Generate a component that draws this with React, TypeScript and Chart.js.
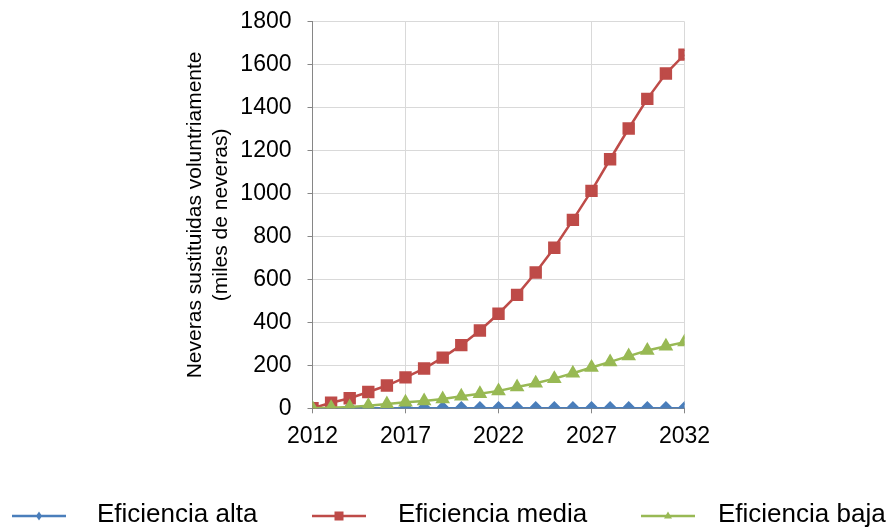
import React, { useEffect, useRef } from "react";
import { Chart, registerables } from "chart.js";

Chart.register(...registerables);

const years = [2012, 2013, 2014, 2015, 2016, 2017, 2018, 2019, 2020, 2021, 2022, 2023, 2024, 2025, 2026, 2027, 2028, 2029, 2030, 2031, 2032];
const eficienciaAlta = [0, 0, 0, 0, 0, 0, 0, 0, 0, 0, 0, 0, 0, 0, 0, 0, 0, 0, 0, 0, 0];
const eficienciaMedia = [0, 26, 47, 76, 106, 144, 185, 236, 294, 362, 440, 528, 632, 747, 877, 1012, 1159, 1302, 1440, 1558, 1646];
const eficienciaBaja = [0, 3, 6, 12, 20, 28, 34, 43, 56, 68, 81, 99, 117, 138, 163, 190, 216, 243, 269, 289, 308];
const seriesNames = ["Eficiencia alta", "Eficiencia media", "Eficiencia baja"];
const yTitle = ["Neveras sustituidas voluntriamente", "(miles de neveras)"];

const FONT = "'Liberation Sans', Arial, sans-serif";

const legendPlugin = {
  id: "customLegend",
  afterDraw(chart: any) {
    const ctx = chart.ctx;
    const items = [
      { ds: 0, lineX: 39, textX: 97 },
      { ds: 1, lineX: 339, textX: 398 },
      { ds: 2, lineX: 668, textX: 718 },
    ];
    ctx.save();
    items.forEach((it) => {
      const ds = chart.data.datasets[it.ds];
      const y = 516;
      ctx.strokeStyle = ds.borderColor;
      ctx.lineWidth = 2.5;
      ctx.beginPath();
      ctx.moveTo(it.lineX - 27, y);
      ctx.lineTo(it.lineX + 27, y);
      ctx.stroke();
      ctx.fillStyle = ds.pointBackgroundColor;
      if (ds.pointStyle === "rect") {
        ctx.fillRect(it.lineX - 4.5, y - 4.5, 9, 9);
      } else if (ds.pointStyle === "rectRot") {
        ctx.beginPath();
        ctx.moveTo(it.lineX, y - 4.5);
        ctx.lineTo(it.lineX + 3, y);
        ctx.lineTo(it.lineX, y + 4.5);
        ctx.lineTo(it.lineX - 3, y);
        ctx.closePath();
        ctx.fill();
      } else {
        ctx.beginPath();
        ctx.moveTo(it.lineX, y - 4.5);
        ctx.lineTo(it.lineX + 4, y + 2.5);
        ctx.lineTo(it.lineX - 4, y + 2.5);
        ctx.closePath();
        ctx.fill();
      }
      ctx.fillStyle = "#000000";
      ctx.font = `26px ${FONT}`;
      ctx.textBaseline = "middle";
      ctx.textAlign = "left";
      ctx.fillText(seriesNames[it.ds], it.textX, 515);
    });
    ctx.restore();
  },
};

export default function App() {
  const ref = useRef<HTMLCanvasElement | null>(null);

  useEffect(() => {
    if (!ref.current) return;
    const mk = (vals: number[]) => years.map((x, i) => ({ x, y: vals[i] }));
    const chart = new Chart(ref.current, {
      type: "line",
      data: {
        datasets: [
          {
            label: seriesNames[0],
            data: mk(eficienciaAlta),
            order: 2,
            borderColor: "#4A7EBB",
            backgroundColor: "#4A7EBB",
            pointBackgroundColor: "#4A7EBB",
            pointBorderColor: "#4A7EBB",
            pointStyle: "rectRot",
            pointRadius: 5.5,
            borderWidth: 2.5,
          },
          {
            label: seriesNames[1],
            data: mk(eficienciaMedia),
            order: 1,
            borderColor: "#BE4B48",
            backgroundColor: "#BE4B48",
            pointBackgroundColor: "#BE4B48",
            pointBorderColor: "#BE4B48",
            pointStyle: "rect",
            pointRadius: 7,
            borderWidth: 2.5,
          },
          {
            label: seriesNames[2],
            data: mk(eficienciaBaja),
            order: 0,
            borderColor: "#98B954",
            backgroundColor: "#98B954",
            pointBackgroundColor: "#98B954",
            pointBorderColor: "#98B954",
            pointStyle: "triangle",
            pointRadius: 6,
            borderWidth: 2.5,
          },
        ],
      },
      options: {
        animation: false,
        responsive: false,
        maintainAspectRatio: false,
        layout: { padding: { left: 170, right: 206.5, top: 21.5, bottom: 0 } },
        plugins: { legend: { display: false }, tooltip: { enabled: false } },
        scales: {
          x: {
            type: "linear",
            min: 2012,
            max: 2032,
            ticks: {
              stepSize: 5,
              color: "#000000",
              font: { family: FONT, size: 23 },
              padding: 10,
              callback: (v: any) => String(v),
            },
            grid: { color: "#D9D9D9", lineWidth: 1, tickLength: 5, tickColor: "#868686" },
            border: { color: "#868686", width: 1 },
            afterFit: (s: any) => {
              s.height = 118.7;
              s.paddingLeft = 0;
              s.paddingRight = 0;
            },
          },
          y: {
            min: 0,
            max: 1800,
            ticks: {
              stepSize: 200,
              color: "#000000",
              font: { family: FONT, size: 23 },
              padding: 16,
              callback: (v: any) => String(v),
            },
            grid: { color: "#D9D9D9", lineWidth: 1, tickLength: 5, tickColor: "#868686" },
            border: { color: "#868686", width: 1 },
            title: {
              display: true,
              text: yTitle,
              color: "#000000",
              font: { family: FONT, size: 21, lineHeight: 1.24 },
              padding: { top: 12, bottom: 0 },
            },
            afterFit: (s: any) => {
              s.width = 142.5;
              s.paddingTop = 0;
              s.paddingBottom = 0;
            },
          },
        },
      },
      plugins: [legendPlugin],
    });
    return () => chart.destroy();
  }, []);

  return (
    <div style={{ position: "absolute", left: 0, top: 0, width: 891, height: 527, background: "#ffffff" }}>
      <canvas ref={ref} width={891} height={527} style={{ width: 891, height: 527, display: "block" }} />
    </div>
  );
}
